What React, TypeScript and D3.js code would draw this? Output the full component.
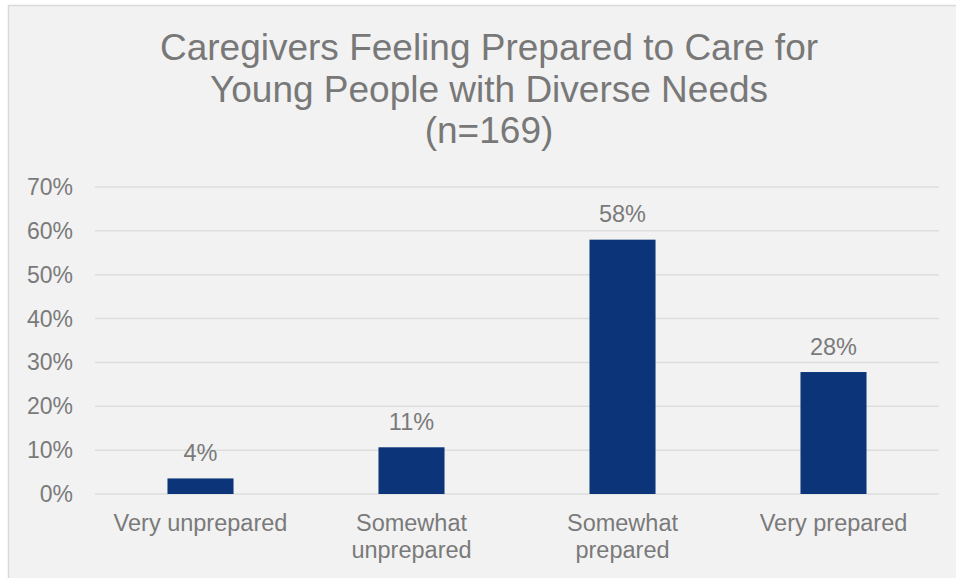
import React from "react";
import * as d3 from "d3";

const categories: string[][] = [
  ["Very unprepared"],
  ["Somewhat", "unprepared"],
  ["Somewhat", "prepared"],
  ["Very prepared"],
];
const values: number[] = [3.55, 10.65, 57.99, 27.81];
const dataLabels: string[] = ["4%", "11%", "58%", "28%"];
const yTicks: number[] = [0, 10, 20, 30, 40, 50, 60, 70];
const titleLines: string[] = [
  "Caregivers Feeling Prepared to Care for",
  "Young People with Diverse Needs",
  "(n=169)",
];

const W = 956;
const H = 578;
const plot = { left: 95, right: 939, top: 187, bottom: 494 };
const FONT = "'Liberation Sans', Arial, sans-serif";
const textColor = "#7a7a7a";

export default function App() {
  const x = d3
    .scaleBand<number>()
    .domain(values.map((_, i) => i))
    .range([plot.left, plot.right])
    .paddingInner(0.687)
    .paddingOuter(0.3435);
  const y = d3.scaleLinear().domain([0, 70]).range([plot.bottom, plot.top]);

  return (
    <svg
      width={W}
      height={H}
      style={{ position: "fixed", left: 0, top: 0, display: "block" }}
      fontFamily={FONT}
    >
      <rect x={0} y={0} width={W} height={H} fill="#ffffff" />
      <rect x={8.5} y={5.5} width={W + 20} height={H + 20} fill="#f2f2f2" stroke="#d9d9d9" strokeWidth={1.5} />
      {titleLines.map((t, i) => (
        <text
          key={i}
          x={(plot.left + plot.right) / 2 - 28}
          y={60 + i * 41.5}
          textAnchor="middle"
          fontSize={37}
          fill="#787878"
        >
          {t}
        </text>
      ))}
      {yTicks.map((t) => (
        <g key={t}>
          <line
            x1={plot.left}
            x2={plot.right}
            y1={y(t)}
            y2={y(t)}
            stroke="#dedede"
            strokeWidth={1.5}
          />
          <text
            x={73}
            y={y(t)}
            dy="0.35em"
            textAnchor="end"
            fontSize={23}
            fill={textColor}
          >
            {t}%
          </text>
        </g>
      ))}
      {values.map((v, i) => {
        const bx = x(i) as number;
        const bw = x.bandwidth();
        return (
          <g key={i}>
            <rect x={bx} y={y(v)} width={bw} height={y(0) - y(v)} fill="#0b3578" />
            <text
              x={bx + bw / 2}
              y={y(v) - 17.5}
              textAnchor="middle"
              fontSize={23.5}
              fill={textColor}
            >
              {dataLabels[i]}
            </text>
            {categories[i].map((line, j) => (
              <text
                key={j}
                x={bx + bw / 2}
                y={531 + j * 26.5}
                textAnchor="middle"
                fontSize={23.5}
                fill={textColor}
              >
                {line}
              </text>
            ))}
          </g>
        );
      })}
    </svg>
  );
}
